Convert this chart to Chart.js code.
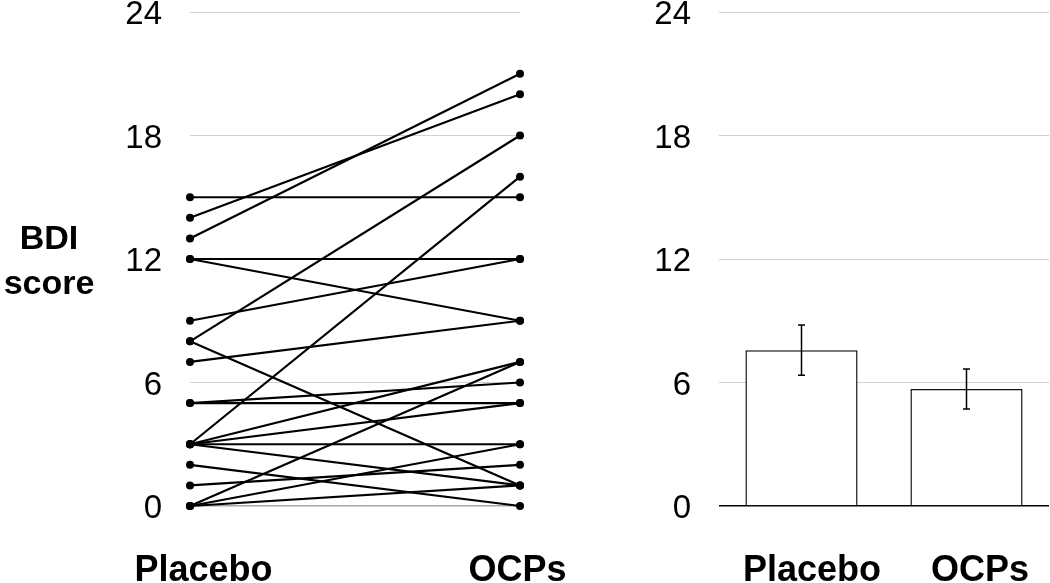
<!DOCTYPE html>
<html>
<head>
<meta charset="utf-8">
<script src="https://cdn.jsdelivr.net/npm/chart.js@4.4.1/dist/chart.umd.min.js"></script>
<style>
  html, body { margin: 0; padding: 0; background: #fff; }
  body { width: 1050px; height: 583px; position: relative; overflow: hidden; }
  canvas { position: absolute; top: 0; }
  #left { left: 0; }
  #right { left: 600px; }
</style>
</head>
<body>
<canvas id="left" width="600" height="583"></canvas>
<canvas id="right" width="450" height="583"></canvas>
<script>
// ---- Data ----
const groups = ['Placebo', 'OCPs'];
const placeboScores = [15, 14, 13, 12, 12, 9, 8, 8, 7, 5, 5, 3, 3, 3, 3, 3, 2, 1, 0, 0, 0];
const ocpScores     = [15, 20, 21, 12, 9, 12, 18, 1, 9, 5, 6, 16, 7, 5, 3, 1, 0, 2, 7, 3, 1];
const meanScores = [7.57, 5.68];
const seScores   = [1.22, 0.97];
const yTicks = [0, 6, 12, 18, 24];
const yAxisTitle = ['BDI', 'score'];

const FONT = "'Liberation Sans', Arial, Helvetica, sans-serif";
const tickFont = { family: FONT, size: 33, lineHeight: 0.7 };
const labelFont = "bold 36px " + FONT;

// Draw category labels under a chart
function categoryLabelPlugin(shifts, extra) {
  return {
    id: 'catLabels',
    afterDraw(chart) {
      const ctx = chart.ctx;
      const xs = chart.scales.x;
      ctx.save();
      ctx.fillStyle = '#000';
      ctx.font = labelFont;
      ctx.textAlign = 'center';
      ctx.textBaseline = 'alphabetic';
      groups.forEach((g, i) => {
        ctx.fillText(g, xs.getPixelForValue(i) + shifts[i], 581);
      });
      if (extra) extra(chart, ctx);
      ctx.restore();
    }
  };
}

function yScaleOptions(width, zeroColor) {
  return {
    min: 0, max: 24,
    afterBuildTicks(scale) { scale.ticks = yTicks.map(v => ({ value: v })); },
    afterFit(scale) { scale.width = width; scale.paddingTop = 0; scale.paddingBottom = 0; },
    border: { display: false },
    grid: {
      drawTicks: false,
      color: ctx => (ctx.tick && ctx.tick.value === 0) ? zeroColor : '#d2d2d2',
      lineWidth: ctx => (ctx.tick && ctx.tick.value === 0) ? 1.5 : 1
    },
    ticks: { padding: 28, labelOffset: 3, color: '#000', font: tickFont }
  };
}

// ---- Left: paired lines ----
const pairDatasets = placeboScores.map((p, i) => ({
  data: [p, ocpScores[i]],
  borderColor: '#000',
  backgroundColor: '#000',
  borderWidth: 2.2,
  pointRadius: 4,
  pointBackgroundColor: '#000',
  pointBorderWidth: 0,
  clip: false,
  tension: 0
}));

new Chart(document.getElementById('left'), {
  type: 'line',
  data: { labels: groups, datasets: pairDatasets },
  options: {
    responsive: false,
    devicePixelRatio: 1,
    animation: false,
    layout: { padding: { top: 12, bottom: 77, left: 0, right: 80 } },
    plugins: { legend: { display: false }, tooltip: { enabled: false } },
    scales: {
      x: { type: 'category', display: false, offset: false },
      y: yScaleOptions(190, '#a8a8a8')
    }
  },
  plugins: [categoryLabelPlugin([13.5, -2.5], (chart, ctx) => {
    ctx.font = "bold 34px " + FONT;
    ctx.textAlign = 'center';
    ctx.fillText(yAxisTitle[0], 49, 249);
    ctx.fillText(yAxisTitle[1], 49, 294);
  })]
});

// ---- Right: bar chart with error bars ----
const errorBarPlugin = {
  id: 'errorBars',
  afterDatasetsDraw(chart) {
    const ctx = chart.ctx;
    const ys = chart.scales.y;
    const meta = chart.getDatasetMeta(0);
    ctx.save();
    ctx.strokeStyle = '#000';
    ctx.lineWidth = 1.5;
    meta.data.forEach((bar, i) => {
      const x = bar.x;
      const yTop = ys.getPixelForValue(meanScores[i] + seScores[i]);
      const yBot = ys.getPixelForValue(meanScores[i] - seScores[i]);
      ctx.beginPath();
      ctx.moveTo(x, yTop); ctx.lineTo(x, yBot);
      ctx.moveTo(x - 3.5, yTop); ctx.lineTo(x + 3.5, yTop);
      ctx.moveTo(x - 3.5, yBot); ctx.lineTo(x + 3.5, yBot);
      ctx.stroke();
    });
    ctx.restore();
  }
};

new Chart(document.getElementById('right'), {
  type: 'bar',
  data: {
    labels: groups,
    datasets: [{
      data: meanScores,
      backgroundColor: '#fff',
      borderColor: '#111',
      borderWidth: 1.5,
      barPercentage: 0.68,
      categoryPercentage: 1
    }]
  },
  options: {
    responsive: false,
    devicePixelRatio: 1,
    animation: false,
    layout: { padding: { top: 12, bottom: 77, left: 0, right: 1 } },
    plugins: { legend: { display: false }, tooltip: { enabled: false } },
    scales: {
      x: { type: 'category', display: false },
      y: yScaleOptions(119, '#000')
    }
  },
  plugins: [errorBarPlugin, categoryLabelPlugin([10.5, 13.5])]
});
</script>
</body>
</html>
